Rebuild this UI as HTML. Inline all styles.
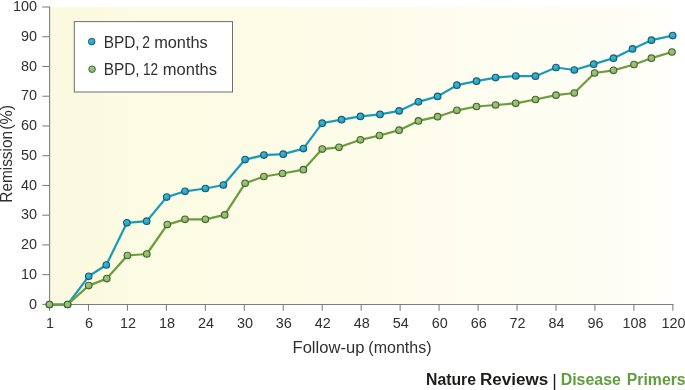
<!DOCTYPE html>
<html><head><meta charset="utf-8"><title>Remission chart</title>
<style>
html,body{margin:0;padding:0;background:#fff;}
body{width:685px;height:390px;overflow:hidden;font-family:"Liberation Sans",sans-serif;}
svg{display:block;}
svg text{font-family:"Liberation Sans",sans-serif;}
</style></head><body>
<svg width="685" height="390" viewBox="0 0 685 390">
<defs>
<linearGradient id="bg" x1="0" y1="0" x2="1" y2="0">
<stop offset="0" stop-color="#fbfae0"/><stop offset="0.5" stop-color="#fdfce9"/><stop offset="1" stop-color="#fffef8"/>
</linearGradient>
<radialGradient id="gb" cx="0.4" cy="0.35" r="0.7"><stop offset="0" stop-color="#45b9d6"/><stop offset="1" stop-color="#1a95b3"/></radialGradient>
<radialGradient id="gg" cx="0.4" cy="0.35" r="0.7"><stop offset="0" stop-color="#a2c783"/><stop offset="1" stop-color="#86ae64"/></radialGradient>
</defs>
<rect x="49.5" y="7" width="623.4" height="297.4" fill="url(#bg)"/>
<g stroke="#7c7c7c" stroke-width="1.05" fill="none">
<line x1="49.6" y1="6.4" x2="49.6" y2="304.4"/>
<line x1="49.5" y1="304.4" x2="673.5" y2="304.4"/>
<line x1="42.3" y1="7.00" x2="49.5" y2="7.00"/>
<line x1="42.3" y1="36.74" x2="49.5" y2="36.74"/>
<line x1="42.3" y1="66.48" x2="49.5" y2="66.48"/>
<line x1="42.3" y1="96.22" x2="49.5" y2="96.22"/>
<line x1="42.3" y1="125.96" x2="49.5" y2="125.96"/>
<line x1="42.3" y1="155.70" x2="49.5" y2="155.70"/>
<line x1="42.3" y1="185.44" x2="49.5" y2="185.44"/>
<line x1="42.3" y1="215.18" x2="49.5" y2="215.18"/>
<line x1="42.3" y1="244.92" x2="49.5" y2="244.92"/>
<line x1="42.3" y1="274.66" x2="49.5" y2="274.66"/>
<line x1="42.3" y1="304.40" x2="49.5" y2="304.40"/>
<line x1="49.50" y1="304.4" x2="49.50" y2="310.8"/>
<line x1="88.46" y1="304.4" x2="88.46" y2="310.8"/>
<line x1="127.42" y1="304.4" x2="127.42" y2="310.8"/>
<line x1="166.38" y1="304.4" x2="166.38" y2="310.8"/>
<line x1="205.34" y1="304.4" x2="205.34" y2="310.8"/>
<line x1="244.30" y1="304.4" x2="244.30" y2="310.8"/>
<line x1="283.26" y1="304.4" x2="283.26" y2="310.8"/>
<line x1="322.22" y1="304.4" x2="322.22" y2="310.8"/>
<line x1="361.18" y1="304.4" x2="361.18" y2="310.8"/>
<line x1="400.14" y1="304.4" x2="400.14" y2="310.8"/>
<line x1="439.10" y1="304.4" x2="439.10" y2="310.8"/>
<line x1="478.06" y1="304.4" x2="478.06" y2="310.8"/>
<line x1="517.02" y1="304.4" x2="517.02" y2="310.8"/>
<line x1="555.98" y1="304.4" x2="555.98" y2="310.8"/>
<line x1="594.94" y1="304.4" x2="594.94" y2="310.8"/>
<line x1="633.90" y1="304.4" x2="633.90" y2="310.8"/>
<line x1="672.86" y1="304.4" x2="672.86" y2="310.8"/>
</g>
<g font-size="14.4" fill="#303030">
<text x="37.1" y="11.15" text-anchor="end">100</text>
<text x="37.1" y="40.89" text-anchor="end">90</text>
<text x="37.1" y="70.63" text-anchor="end">80</text>
<text x="37.1" y="100.37" text-anchor="end">70</text>
<text x="37.1" y="130.11" text-anchor="end">60</text>
<text x="37.1" y="159.85" text-anchor="end">50</text>
<text x="37.1" y="189.59" text-anchor="end">40</text>
<text x="37.1" y="219.33" text-anchor="end">30</text>
<text x="37.1" y="249.07" text-anchor="end">20</text>
<text x="37.1" y="278.81" text-anchor="end">10</text>
<text x="37.1" y="308.55" text-anchor="end">0</text>
<text x="50.10" y="327.5" text-anchor="middle">1</text>
<text x="89.06" y="327.5" text-anchor="middle">6</text>
<text x="128.02" y="327.5" text-anchor="middle">12</text>
<text x="166.98" y="327.5" text-anchor="middle">18</text>
<text x="205.94" y="327.5" text-anchor="middle">24</text>
<text x="244.90" y="327.5" text-anchor="middle">30</text>
<text x="283.86" y="327.5" text-anchor="middle">36</text>
<text x="322.82" y="327.5" text-anchor="middle">42</text>
<text x="361.78" y="327.5" text-anchor="middle">48</text>
<text x="400.74" y="327.5" text-anchor="middle">54</text>
<text x="439.70" y="327.5" text-anchor="middle">60</text>
<text x="478.66" y="327.5" text-anchor="middle">66</text>
<text x="517.62" y="327.5" text-anchor="middle">72</text>
<text x="556.58" y="327.5" text-anchor="middle">84</text>
<text x="595.54" y="327.5" text-anchor="middle">96</text>
<text x="634.50" y="327.5" text-anchor="middle">108</text>
<text x="673.46" y="327.5" text-anchor="middle">120</text>
</g>
<g transform="translate(12.4,0) rotate(-90)">
<text x="-202.7" y="0" font-size="15.6" fill="#303030" textLength="71.76" lengthAdjust="spacingAndGlyphs">Remission</text>
<text x="-129.75" y="0" font-size="15.6" fill="#303030" textLength="24.98" lengthAdjust="spacingAndGlyphs">(%)</text>
</g>
<text x="292.5" y="352.7" font-size="15.6" fill="#303030" textLength="71.87" lengthAdjust="spacingAndGlyphs">Follow-up</text>
<text x="368.35" y="352.7" font-size="15.6" fill="#303030" textLength="63.18" lengthAdjust="spacingAndGlyphs">(months)</text>
<rect x="74.3" y="21.6" width="158.2" height="70.4" fill="#fff" stroke="#6e6e6e" stroke-width="1"/>
<circle cx="91.7" cy="41.6" r="3.3" fill="url(#gb)" stroke="#155f75" stroke-width="1"/>
<circle cx="92.1" cy="69.2" r="3.3" fill="url(#gg)" stroke="#44682d" stroke-width="1"/>
<text x="103.7" y="47.8" font-size="16.4" fill="#303030" textLength="35.95" lengthAdjust="spacingAndGlyphs">BPD,</text>
<text x="142.25" y="47.8" font-size="16.4" fill="#303030" textLength="7.71" lengthAdjust="spacingAndGlyphs">2</text>
<text x="154.18" y="47.8" font-size="16.4" fill="#303030" textLength="53.53" lengthAdjust="spacingAndGlyphs">months</text>
<text x="103.7" y="75.3" font-size="16.4" fill="#303030" textLength="35.95" lengthAdjust="spacingAndGlyphs">BPD,</text>
<text x="142.95" y="75.3" font-size="16.4" fill="#303030" textLength="15.1" lengthAdjust="spacingAndGlyphs">12</text>
<text x="162.87" y="75.3" font-size="16.4" fill="#303030" textLength="54.15" lengthAdjust="spacingAndGlyphs">months</text>
<polyline points="49.4,304.5 67.6,304.5 88.7,276.3 106.3,265 126.9,222.8 146.7,221.2 166.7,197.1 185,191.3 205.4,188.5 223.4,185 245.1,159.6 263.9,155.1 283.2,154.2 303.4,148.6 322.2,123.2 341.6,119.7 360.4,116.4 380,114.4 399.1,110.9 418.4,101.8 437.6,96.4 456.9,85.2 476.5,81.2 495.6,77.6 515.8,76.0 535.5,76.2 556.0,67.5 574.3,70 593.7,64.2 613.5,58.2 632.5,48.9 651.4,40.2 672.7,35.6" fill="none" stroke="#1b9bb9" stroke-width="2.25" stroke-linejoin="round"/>
<circle cx="49.4" cy="304.5" r="3.3" fill="url(#gb)" stroke="#155f75" stroke-width="1.1"/>
<circle cx="67.6" cy="304.5" r="3.3" fill="url(#gb)" stroke="#155f75" stroke-width="1.1"/>
<circle cx="88.7" cy="276.3" r="3.3" fill="url(#gb)" stroke="#155f75" stroke-width="1.1"/>
<circle cx="106.3" cy="265" r="3.3" fill="url(#gb)" stroke="#155f75" stroke-width="1.1"/>
<circle cx="126.9" cy="222.8" r="3.3" fill="url(#gb)" stroke="#155f75" stroke-width="1.1"/>
<circle cx="146.7" cy="221.2" r="3.3" fill="url(#gb)" stroke="#155f75" stroke-width="1.1"/>
<circle cx="166.7" cy="197.1" r="3.3" fill="url(#gb)" stroke="#155f75" stroke-width="1.1"/>
<circle cx="185" cy="191.3" r="3.3" fill="url(#gb)" stroke="#155f75" stroke-width="1.1"/>
<circle cx="205.4" cy="188.5" r="3.3" fill="url(#gb)" stroke="#155f75" stroke-width="1.1"/>
<circle cx="223.4" cy="185" r="3.3" fill="url(#gb)" stroke="#155f75" stroke-width="1.1"/>
<circle cx="245.1" cy="159.6" r="3.3" fill="url(#gb)" stroke="#155f75" stroke-width="1.1"/>
<circle cx="263.9" cy="155.1" r="3.3" fill="url(#gb)" stroke="#155f75" stroke-width="1.1"/>
<circle cx="283.2" cy="154.2" r="3.3" fill="url(#gb)" stroke="#155f75" stroke-width="1.1"/>
<circle cx="303.4" cy="148.6" r="3.3" fill="url(#gb)" stroke="#155f75" stroke-width="1.1"/>
<circle cx="322.2" cy="123.2" r="3.3" fill="url(#gb)" stroke="#155f75" stroke-width="1.1"/>
<circle cx="341.6" cy="119.7" r="3.3" fill="url(#gb)" stroke="#155f75" stroke-width="1.1"/>
<circle cx="360.4" cy="116.4" r="3.3" fill="url(#gb)" stroke="#155f75" stroke-width="1.1"/>
<circle cx="380" cy="114.4" r="3.3" fill="url(#gb)" stroke="#155f75" stroke-width="1.1"/>
<circle cx="399.1" cy="110.9" r="3.3" fill="url(#gb)" stroke="#155f75" stroke-width="1.1"/>
<circle cx="418.4" cy="101.8" r="3.3" fill="url(#gb)" stroke="#155f75" stroke-width="1.1"/>
<circle cx="437.6" cy="96.4" r="3.3" fill="url(#gb)" stroke="#155f75" stroke-width="1.1"/>
<circle cx="456.9" cy="85.2" r="3.3" fill="url(#gb)" stroke="#155f75" stroke-width="1.1"/>
<circle cx="476.5" cy="81.2" r="3.3" fill="url(#gb)" stroke="#155f75" stroke-width="1.1"/>
<circle cx="495.6" cy="77.6" r="3.3" fill="url(#gb)" stroke="#155f75" stroke-width="1.1"/>
<circle cx="515.8" cy="76.0" r="3.3" fill="url(#gb)" stroke="#155f75" stroke-width="1.1"/>
<circle cx="535.5" cy="76.2" r="3.3" fill="url(#gb)" stroke="#155f75" stroke-width="1.1"/>
<circle cx="556.0" cy="67.5" r="3.3" fill="url(#gb)" stroke="#155f75" stroke-width="1.1"/>
<circle cx="574.3" cy="70" r="3.3" fill="url(#gb)" stroke="#155f75" stroke-width="1.1"/>
<circle cx="593.7" cy="64.2" r="3.3" fill="url(#gb)" stroke="#155f75" stroke-width="1.1"/>
<circle cx="613.5" cy="58.2" r="3.3" fill="url(#gb)" stroke="#155f75" stroke-width="1.1"/>
<circle cx="632.5" cy="48.9" r="3.3" fill="url(#gb)" stroke="#155f75" stroke-width="1.1"/>
<circle cx="651.4" cy="40.2" r="3.3" fill="url(#gb)" stroke="#155f75" stroke-width="1.1"/>
<circle cx="672.7" cy="35.6" r="3.3" fill="url(#gb)" stroke="#155f75" stroke-width="1.1"/>
<polyline points="49.4,304.5 67.6,304.5 88.7,285.6 106.8,278.6 127.4,255.5 146.8,254 167.3,224.6 185,219.3 205.4,219.3 224.7,214.9 245.1,183.3 263.9,176.5 282.5,173.5 303.4,169.7 322.2,149.1 339,147.3 360.4,139.8 379.5,135.5 399.1,130.2 418.4,120.9 437.6,116.7 456.9,110.3 476.5,106.5 495.6,105 515.7,103.3 535.5,99.5 556.0,95.2 574.3,93 594.6,73.0 613.5,70.3 634,64.5 651.4,58.2 672,52" fill="none" stroke="#6a9d3b" stroke-width="2.25" stroke-linejoin="round"/>
<circle cx="49.4" cy="304.5" r="3.3" fill="url(#gg)" stroke="#44682d" stroke-width="1.1"/>
<circle cx="67.6" cy="304.5" r="3.3" fill="url(#gg)" stroke="#44682d" stroke-width="1.1"/>
<circle cx="88.7" cy="285.6" r="3.3" fill="url(#gg)" stroke="#44682d" stroke-width="1.1"/>
<circle cx="106.8" cy="278.6" r="3.3" fill="url(#gg)" stroke="#44682d" stroke-width="1.1"/>
<circle cx="127.4" cy="255.5" r="3.3" fill="url(#gg)" stroke="#44682d" stroke-width="1.1"/>
<circle cx="146.8" cy="254" r="3.3" fill="url(#gg)" stroke="#44682d" stroke-width="1.1"/>
<circle cx="167.3" cy="224.6" r="3.3" fill="url(#gg)" stroke="#44682d" stroke-width="1.1"/>
<circle cx="185" cy="219.3" r="3.3" fill="url(#gg)" stroke="#44682d" stroke-width="1.1"/>
<circle cx="205.4" cy="219.3" r="3.3" fill="url(#gg)" stroke="#44682d" stroke-width="1.1"/>
<circle cx="224.7" cy="214.9" r="3.3" fill="url(#gg)" stroke="#44682d" stroke-width="1.1"/>
<circle cx="245.1" cy="183.3" r="3.3" fill="url(#gg)" stroke="#44682d" stroke-width="1.1"/>
<circle cx="263.9" cy="176.5" r="3.3" fill="url(#gg)" stroke="#44682d" stroke-width="1.1"/>
<circle cx="282.5" cy="173.5" r="3.3" fill="url(#gg)" stroke="#44682d" stroke-width="1.1"/>
<circle cx="303.4" cy="169.7" r="3.3" fill="url(#gg)" stroke="#44682d" stroke-width="1.1"/>
<circle cx="322.2" cy="149.1" r="3.3" fill="url(#gg)" stroke="#44682d" stroke-width="1.1"/>
<circle cx="339" cy="147.3" r="3.3" fill="url(#gg)" stroke="#44682d" stroke-width="1.1"/>
<circle cx="360.4" cy="139.8" r="3.3" fill="url(#gg)" stroke="#44682d" stroke-width="1.1"/>
<circle cx="379.5" cy="135.5" r="3.3" fill="url(#gg)" stroke="#44682d" stroke-width="1.1"/>
<circle cx="399.1" cy="130.2" r="3.3" fill="url(#gg)" stroke="#44682d" stroke-width="1.1"/>
<circle cx="418.4" cy="120.9" r="3.3" fill="url(#gg)" stroke="#44682d" stroke-width="1.1"/>
<circle cx="437.6" cy="116.7" r="3.3" fill="url(#gg)" stroke="#44682d" stroke-width="1.1"/>
<circle cx="456.9" cy="110.3" r="3.3" fill="url(#gg)" stroke="#44682d" stroke-width="1.1"/>
<circle cx="476.5" cy="106.5" r="3.3" fill="url(#gg)" stroke="#44682d" stroke-width="1.1"/>
<circle cx="495.6" cy="105" r="3.3" fill="url(#gg)" stroke="#44682d" stroke-width="1.1"/>
<circle cx="515.7" cy="103.3" r="3.3" fill="url(#gg)" stroke="#44682d" stroke-width="1.1"/>
<circle cx="535.5" cy="99.5" r="3.3" fill="url(#gg)" stroke="#44682d" stroke-width="1.1"/>
<circle cx="556.0" cy="95.2" r="3.3" fill="url(#gg)" stroke="#44682d" stroke-width="1.1"/>
<circle cx="574.3" cy="93" r="3.3" fill="url(#gg)" stroke="#44682d" stroke-width="1.1"/>
<circle cx="594.6" cy="73.0" r="3.3" fill="url(#gg)" stroke="#44682d" stroke-width="1.1"/>
<circle cx="613.5" cy="70.3" r="3.3" fill="url(#gg)" stroke="#44682d" stroke-width="1.1"/>
<circle cx="634" cy="64.5" r="3.3" fill="url(#gg)" stroke="#44682d" stroke-width="1.1"/>
<circle cx="651.4" cy="58.2" r="3.3" fill="url(#gg)" stroke="#44682d" stroke-width="1.1"/>
<circle cx="672" cy="52" r="3.3" fill="url(#gg)" stroke="#44682d" stroke-width="1.1"/>
<text x="426.01" y="385.4" font-size="16.8" font-weight="bold" fill="#1d1d1b" textLength="49.98" lengthAdjust="spacingAndGlyphs">Nature</text>
<text x="479.93" y="385.4" font-size="16.8" font-weight="bold" fill="#1d1d1b" textLength="68.26" lengthAdjust="spacingAndGlyphs">Reviews</text>
<text x="554.4" y="386.6" font-size="17.5" fill="#1d1d1b" text-anchor="middle">|</text>
<text x="560.7" y="385.4" font-size="16.8" font-weight="bold" fill="#5f9e3c" textLength="60.19" lengthAdjust="spacingAndGlyphs">Disease</text>
<text x="626.81" y="385.4" font-size="16.8" font-weight="bold" fill="#5f9e3c" textLength="58.83" lengthAdjust="spacingAndGlyphs">Primers</text>
</svg>
</body></html>
